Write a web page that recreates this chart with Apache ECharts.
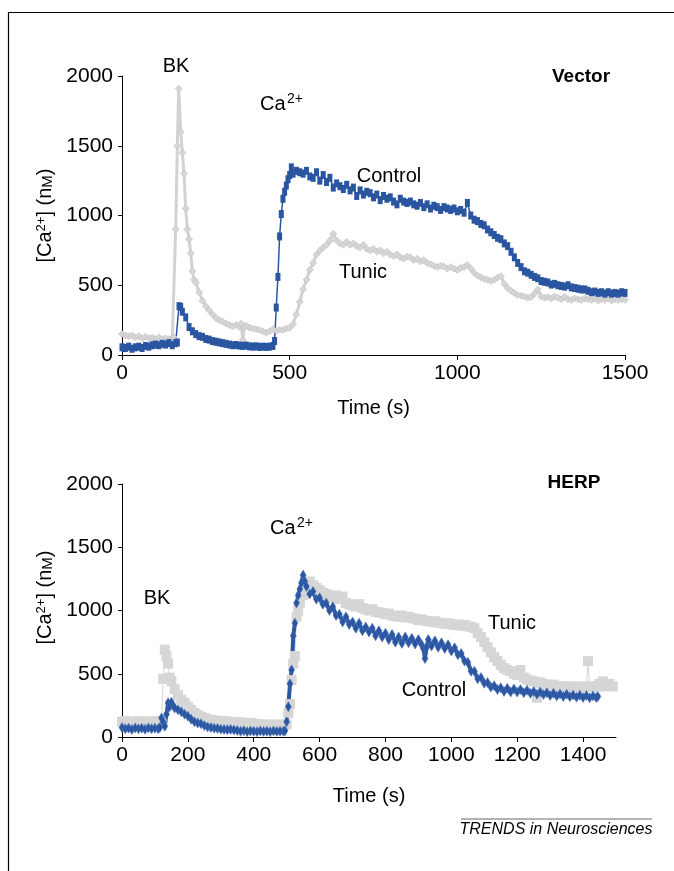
<!DOCTYPE html>
<html>
<head>
<meta charset="utf-8">
<title>Ca2+ traces</title>
<script src="https://cdn.jsdelivr.net/npm/echarts@6/dist/echarts.min.js"></script>
<style>
  html, body { margin: 0; padding: 0; background: #fff; }
  #main { width: 674px; height: 871px; }
</style>
</head>
<body>
<div id="main"></div>
<script type="text/javascript">
// [time (s), Ca2+ (nM)]
var vectorControl = [[0,55],[10,50],[20,60],[30,45],[40,55],[50,60],[60,50],[70,65],[80,60],[90,70],[100,75],[110,70],[120,80],[130,75],[140,85],[150,70],[160,85],[165,90],[170,350],[175,345],[180,310],[190,270],[200,200],[210,170],[220,150],[230,135],[240,130],[250,115],[260,110],[270,100],[280,95],[290,90],[300,85],[310,80],[320,75],[330,70],[340,72],[350,68],[360,65],[370,68],[380,62],[390,60],[400,62],[410,58],[420,60],[430,58],[440,60],[450,65],[455,100],[460,340],[465,560],[470,850],[475,1010],[480,1120],[485,1170],[490,1215],[495,1260],[500,1290],[505,1345],[510,1300],[520,1320],[530,1310],[540,1300],[550,1320],[560,1280],[570,1270],[580,1310],[590,1250],[600,1290],[610,1240],[620,1270],[630,1200],[640,1230],[650,1210],[660,1190],[670,1220],[680,1180],[690,1200],[700,1140],[710,1180],[720,1150],[730,1170],[740,1160],[750,1130],[760,1150],[770,1110],[780,1140],[790,1120],[800,1130],[810,1100],[820,1080],[830,1120],[840,1100],[850,1090],[860,1100],[870,1080],[880,1070],[890,1090],[900,1060],[910,1080],[920,1050],[930,1070],[940,1060],[950,1040],[960,1060],[970,1050],[980,1040],[990,1050],[1000,1030],[1010,1040],[1020,1020],[1030,1090],[1040,1000],[1050,970],[1060,960],[1070,940],[1080,930],[1090,900],[1100,880],[1110,860],[1120,840],[1130,830],[1140,800],[1150,780],[1160,740],[1170,700],[1180,660],[1190,630],[1200,600],[1210,590],[1220,575],[1230,560],[1240,550],[1250,530],[1260,525],[1270,520],[1280,505],[1290,510],[1300,500],[1310,495],[1320,490],[1330,500],[1340,485],[1350,480],[1360,475],[1370,470],[1380,470],[1390,460],[1400,450],[1410,455],[1420,445],[1430,450],[1440,440],[1450,450],[1460,440],[1470,445],[1480,440],[1490,450],[1500,445]];

var vectorTunic = [[0,150],[10,140],[20,135],[30,140],[40,125],[50,135],[60,120],[70,130],[80,120],[90,125],[100,115],[110,125],[120,115],[130,120],[140,115],[150,120],[155,125],[160,900],[165,1500],[169,1910],[175,1600],[180,1450],[185,1300],[190,1050],[195,900],[200,830],[205,730],[210,600],[215,540],[220,520],[230,450],[240,390],[250,350],[260,320],[270,290],[280,265],[290,250],[300,240],[310,225],[320,215],[330,205],[340,215],[350,200],[355,225],[360,110],[365,200],[370,210],[380,195],[390,190],[400,185],[410,180],[420,170],[430,160],[440,170],[450,185],[460,175],[470,180],[480,180],[490,190],[500,195],[510,220],[520,290],[530,380],[540,470],[550,540],[560,610],[570,660],[580,720],[590,750],[600,770],[610,790],[620,820],[630,870],[640,820],[650,800],[660,790],[670,810],[680,790],[690,800],[700,780],[710,770],[720,790],[730,760],[740,750],[750,760],[760,740],[770,750],[780,730],[790,740],[800,720],[810,710],[820,720],[830,700],[840,690],[850,705],[860,700],[870,680],[880,690],[890,670],[900,680],[910,660],[920,650],[930,640],[940,630],[950,640],[960,635],[970,620],[980,630],[990,620],[1000,610],[1010,625],[1020,630],[1030,645],[1040,620],[1050,590],[1060,570],[1070,555],[1080,545],[1090,540],[1100,530],[1110,540],[1120,555],[1130,565],[1140,510],[1150,480],[1160,460],[1170,445],[1180,430],[1190,425],[1200,420],[1210,410],[1220,415],[1230,440],[1240,470],[1250,420],[1260,410],[1270,415],[1280,405],[1290,420],[1300,410],[1310,400],[1320,415],[1330,400],[1340,395],[1350,405],[1360,400],[1370,395],[1380,405],[1390,400],[1400,395],[1410,405],[1420,390],[1430,400],[1440,395],[1450,405],[1460,390],[1470,400],[1480,395],[1490,400],[1500,395]];

var herpControl = [[0,75],[10,65],[20,70],[30,60],[40,72],[50,65],[60,70],[70,62],[80,72],[90,66],[100,70],[110,65],[115,75],[120,150],[125,120],[130,85],[135,180],[140,270],[145,240],[150,275],[155,250],[160,230],[170,215],[180,200],[190,180],[200,165],[210,140],[220,120],[230,110],[240,105],[250,90],[260,80],[270,75],[280,70],[290,68],[300,62],[310,60],[320,58],[330,60],[340,55],[350,52],[360,45],[370,50],[380,42],[390,48],[400,45],[410,42],[420,48],[430,44],[440,46],[450,42],[460,48],[470,44],[480,46],[490,45],[495,50],[500,120],[505,240],[510,420],[515,530],[520,800],[525,900],[530,1060],[535,1120],[540,1170],[545,1220],[550,1280],[555,1230],[560,1190],[570,1130],[580,1150],[590,1090],[600,1100],[610,1050],[620,1060],[630,1000],[640,1030],[650,960],[660,970],[670,910],[680,950],[690,890],[700,910],[710,860],[720,900],[730,840],[740,870],[750,830],[760,860],[770,800],[780,840],[790,790],[800,820],[810,770],[820,810],[830,750],[840,790],[850,740],[860,790],[870,745],[880,780],[890,735],[900,770],[910,730],[915,700],[920,620],[925,710],[930,770],[940,720],[950,760],[960,710],[970,745],[980,700],[990,730],[1000,680],[1010,705],[1020,650],[1030,660],[1040,600],[1050,590],[1060,520],[1070,520],[1080,460],[1090,470],[1100,425],[1110,430],[1120,395],[1130,405],[1140,375],[1150,390],[1160,360],[1170,385],[1180,355],[1190,380],[1200,355],[1210,375],[1220,350],[1230,370],[1240,345],[1250,360],[1260,338],[1270,355],[1280,335],[1290,350],[1300,328],[1310,345],[1320,325],[1330,340],[1340,320],[1350,338],[1360,318],[1370,332],[1380,315],[1390,330],[1400,312],[1410,328],[1420,310],[1430,325],[1440,312],[1445,320]];

var herpTunic = [[0,120],[10,125],[20,118],[30,122],[40,120],[50,125],[60,118],[70,122],[80,120],[90,125],[100,118],[110,122],[120,130],[125,460],[130,690],[135,640],[140,580],[145,470],[150,440],[160,380],[170,330],[180,295],[190,270],[200,240],[210,215],[220,190],[230,175],[240,160],[250,150],[260,140],[270,135],[280,130],[290,128],[300,125],[310,125],[320,122],[330,120],[340,118],[350,115],[360,115],[370,112],[380,110],[390,112],[400,105],[410,100],[420,100],[430,98],[440,98],[450,96],[460,98],[470,96],[480,98],[490,96],[500,100],[505,190],[510,260],[515,450],[520,580],[525,640],[530,950],[535,1000],[540,1060],[550,1120],[560,1180],[570,1230],[580,1200],[590,1180],[600,1160],[610,1140],[620,1130],[630,1110],[640,1100],[650,1120],[660,1090],[670,1110],[680,1060],[690,1050],[700,1040],[710,1030],[720,1050],[730,1020],[740,1010],[750,1000],[760,1010],[770,990],[780,985],[790,980],[800,970],[810,975],[820,960],[830,955],[840,950],[850,960],[860,945],[870,950],[880,940],[890,935],[900,925],[910,930],[920,920],[930,915],[940,910],[950,915],[960,905],[970,900],[980,895],[990,900],[1000,890],[1010,885],[1020,890],[1030,880],[1040,885],[1050,875],[1060,870],[1070,860],[1080,820],[1090,790],[1100,750],[1110,710],[1120,670],[1130,630],[1140,600],[1150,570],[1160,545],[1170,530],[1180,520],[1190,500],[1200,490],[1210,530],[1220,470],[1230,455],[1240,445],[1250,440],[1260,310],[1265,430],[1270,430],[1280,420],[1290,415],[1300,410],[1310,415],[1320,405],[1330,400],[1340,400],[1350,395],[1360,400],[1370,395],[1380,400],[1390,395],[1400,400],[1410,395],[1415,600],[1420,400],[1430,395],[1440,400],[1450,420],[1460,440],[1470,400],[1480,420],[1490,400]];

var BLUE = '#2a55a0';
var FONT = 'Liberation Sans, Arial, sans-serif';

var myChart = echarts.init(document.getElementById('main'));

function plain(v) { return String(v); }

function xAx(gridIndex, interval, gap) {
    return {
        type: 'value', gridIndex: gridIndex, min: 0, max: 1500, interval: interval,
        name: 'Time (s)', nameLocation: 'middle', nameGap: gap,
        nameTextStyle: { color: '#000', fontSize: 20, fontFamily: FONT },
        axisLine: { lineStyle: { color: '#000', width: 1 } },
        axisTick: { length: 5, lineStyle: { color: '#000' } },
        axisLabel: { color: '#000', fontSize: 21, fontFamily: FONT, margin: 8, formatter: plain },
        splitLine: { show: false }
    };
}

function yAx(gridIndex, pad) {
    return {
        type: 'value', gridIndex: gridIndex, min: 0, max: 2000, interval: 500,
        name: '[Ca{sup|2+}] (n{sm|M})', nameLocation: 'middle', nameGap: 62,
        nameTextStyle: {
            color: '#000', fontSize: 20, fontFamily: FONT, padding: pad,
            rich: {
                sup: { fontSize: 13, fontFamily: FONT, verticalAlign: 'top', color: '#000' },
                sm: { fontSize: 15, fontFamily: FONT, verticalAlign: 'bottom', color: '#000' }
            }
        },
        axisLine: { show: true, lineStyle: { color: '#000', width: 1 } },
        axisTick: { show: true, length: 4, lineStyle: { color: '#000' } },
        axisLabel: { color: '#000', fontSize: 21, fontFamily: FONT, margin: 9, formatter: plain },
        splitLine: { show: false }
    };
}

function txt(x, y, s, opt) {
    return {
        type: 'text', x: x, y: y,
        style: Object.assign({ text: s, fill: '#000', font: '20px ' + FONT, textAlign: 'center', textVerticalAlign: 'middle' }, opt || {})
    };
}

function caLabel(x, y) {
    return {
        type: 'group', x: x, y: y,
        children: [
            { type: 'text', x: 0, y: 0, style: { text: 'Ca', fill: '#000', font: '20px ' + FONT, textAlign: 'left', textVerticalAlign: 'bottom' } },
            { type: 'text', x: 27, y: -8, style: { text: '2+', fill: '#000', font: '14px ' + FONT, textAlign: 'left', textVerticalAlign: 'bottom' } }
        ]
    };
}

var option = {
    animation: false,
    backgroundColor: '#fff',
    grid: [
        { left: 122, top: 76, width: 503, height: 279 },
        { left: 122, top: 484, width: 494, height: 253 }
    ],
    xAxis: [xAx(0, 500, 43), xAx(1, 200, 49)],
    yAxis: [yAx(0, [0, 0, 0, 0]), yAx(1, [0, 0, 0, 26])],
    series: [
        {
            name: 'Tunic', type: 'line', xAxisIndex: 0, yAxisIndex: 0, data: vectorTunic,
            symbol: 'diamond', symbolSize: 7, showAllSymbol: true,
            lineStyle: { color: '#d2d2d2', width: 3 },
            itemStyle: { color: '#d6d6d6', borderColor: '#bdbdbd', borderWidth: 0.6 }
        },
        {
            name: 'Control', type: 'line', xAxisIndex: 0, yAxisIndex: 0, data: vectorControl,
            symbol: 'rect', symbolSize: [5, 8], showAllSymbol: true,
            lineStyle: { color: BLUE, width: 1.5 },
            itemStyle: { color: BLUE }
        },
        {
            name: 'Tunic', type: 'line', xAxisIndex: 1, yAxisIndex: 1, data: herpTunic,
            symbol: 'rect', symbolSize: 10, showAllSymbol: true,
            lineStyle: { color: '#d6d6d6', width: 1 },
            itemStyle: { color: '#d6d6d6' }
        },
        {
            name: 'Control', type: 'line', xAxisIndex: 1, yAxisIndex: 1, data: herpControl,
            symbol: 'diamond', symbolSize: [6, 10], showAllSymbol: true,
            lineStyle: { color: BLUE, width: 4 },
            itemStyle: { color: BLUE, borderColor: '#4a73b8', borderWidth: 0.5 }
        }
    ],
    graphic: [
        { type: 'polyline', shape: { points: [[8.5, 871], [8.5, 12.5], [674, 12.5]] }, style: { stroke: '#000', lineWidth: 1.2, fill: null } },
        txt(176, 66, 'BK'),
        caLabel(260, 114),
        txt(581, 77, 'Vector', { font: 'bold 19px ' + FONT }),
        txt(389, 176, 'Control'),
        txt(363, 272, 'Tunic'),
        txt(574, 483, 'HERP', { font: 'bold 19px ' + FONT }),
        caLabel(270, 538),
        txt(157, 598, 'BK'),
        txt(512, 623, 'Tunic'),
        txt(434, 690, 'Control'),
        { type: 'line', shape: { x1: 461, y1: 819, x2: 652, y2: 819 }, style: { stroke: '#666', lineWidth: 1 } },
        txt(556, 830, 'TRENDS in Neurosciences', { font: 'italic 16px ' + FONT })
    ]
};

myChart.setOption(option);
</script>
</body>
</html>
